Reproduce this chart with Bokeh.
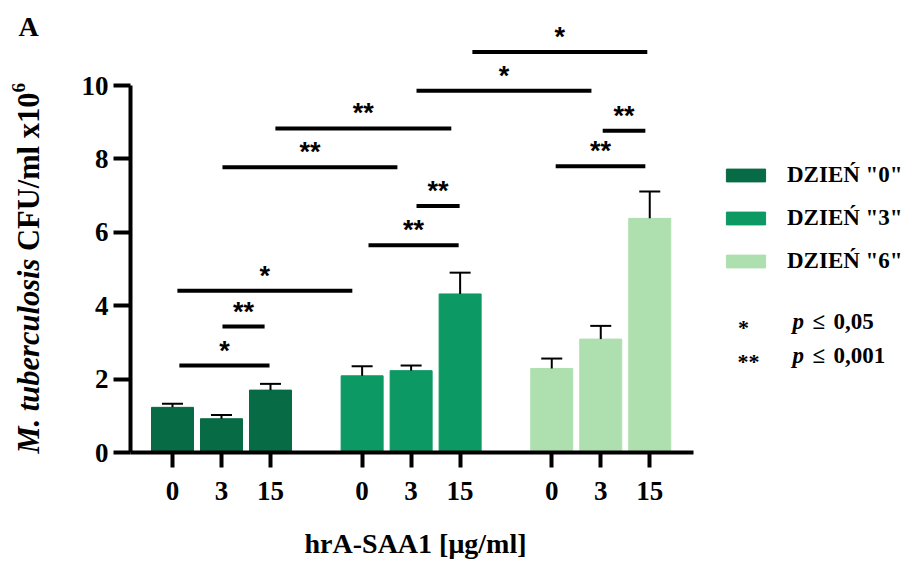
import math
from bokeh.plotting import figure
from bokeh.models import (ColumnDataSource, Range1d, FixedTicker, Whisker, TeeHead,
                          Legend, LegendItem, Label, CustomJSTickFormatter)
from bokeh.core.properties import value
from bokeh.embed import file_html
from bokeh.resources import INLINE

# ---------------- data ----------------
doses = ["0", "3", "15"]
days = ['DZIEŃ "0"', 'DZIEŃ "3"', 'DZIEŃ "6"']
day0_mean = [1.23, 0.92, 1.70]
day0_err = [0.10, 0.10, 0.17]
day3_mean = [2.09, 2.23, 4.32]
day3_err = [0.26, 0.14, 0.58]
day6_mean = [2.29, 3.09, 6.38]
day6_err = [0.27, 0.36, 0.73]
y_ticks = [0, 2, 4, 6, 8, 10]

# significance brackets (x in bar-slot units, y in CFU/ml x10^6)
sig_x0 = [0.14, 1.02, 0.10, 1.02, 2.10, 4.00, 4.98, 7.82, 8.78, 4.98, 6.12]
sig_x1 = [1.98, 1.88, 3.67, 4.59, 5.69, 5.84, 5.86, 9.65, 9.65, 8.55, 9.69]
sig_y = [2.37, 3.43, 4.41, 7.77, 8.83, 5.65, 6.72, 7.80, 8.77, 9.86, 10.91]
sig_txt = ["*", "**", "*", "**", "**", "**", "**", "**", "**", "*", "*"]

p_marks = ["*", "**"]
p_values = ["0,05", "0,001"]

# ---------------- layout constants ----------------
colors = ["#076B45", "#0C9963", "#AEDFAF"]
GROUP_STEP = 3.87
BAR_W = 0.857
W, H = 909, 563
AXIS_PX = 130          # pixel column of the y axis
BOT_PX = 452           # pixel row of the x axis
PX_X = 49.0            # pixels per bar slot
PX_Y = 36.7            # pixels per y unit
X_AXIS_START = -0.857
X_AXIS_END = 10.63
X0 = X_AXIS_START - AXIS_PX / PX_X
X1 = X_AXIS_START + (W - AXIS_PX) / PX_X
Y0 = -(H - BOT_PX) / PX_Y
Y1 = BOT_PX / PX_Y


def dx(px):
    return X_AXIS_START + (px - AXIS_PX) / PX_X


def dy(py):
    return (BOT_PX - py) / PX_Y


SERIF = "Liberation Serif"

p = figure(width=W, height=H, x_range=Range1d(X0, X1), y_range=Range1d(Y0, Y1),
           min_border=0, toolbar_location=None, output_backend="svg", title=None)
p.outline_line_color = None
p.xgrid.visible = False
p.ygrid.visible = False
p.background_fill_color = "white"
p.border_fill_color = "white"

means = [day0_mean, day3_mean, day6_mean]
errs = [day0_err, day3_err, day6_err]
renderers = []
all_x, all_lab = [], []
for g in range(3):
    xs = [g * GROUP_STEP + i for i in range(3)]
    all_x += xs
    all_lab += doses
    src = ColumnDataSource(dict(x=xs, top=means[g],
                                upper=[m + e for m, e in zip(means[g], errs[g])]))
    r = p.vbar(x="x", top="top", width=BAR_W, source=src, fill_color=colors[g],
               line_color=colors[g], line_width=1)
    renderers.append(r)
    wh = Whisker(base="x", lower="top", upper="upper", source=src,
                 upper_head=TeeHead(size=21, line_width=2, line_color="black"),
                 lower_head=None, line_width=2, line_color="black", level="glyph")
    p.add_layout(wh)

# significance brackets
sig_src = ColumnDataSource(dict(x0=sig_x0, x1=sig_x1, y=sig_y, t=sig_txt,
                                xm=[(a + b) / 2 for a, b in zip(sig_x0, sig_x1)]))
p.segment(x0="x0", x1="x1", y0="y", y1="y", source=sig_src, line_width=4,
          line_color="black", line_cap="butt")
p.text(x="xm", y="y", text="t", source=sig_src, text_align="center",
       text_baseline="alphabetic", y_offset=-15, text_font=value("Liberation Sans"),
       text_font_style="bold", text_font_size="27px", text_color="black")

# axes (fixed inside the frame so the outer texts are not clipped)
yax = p.yaxis[0]
yax.fixed_location = X_AXIS_START
yax.ticker = FixedTicker(ticks=y_ticks)
yax.bounds = (0, 10)
yax.axis_line_width = 4
yax.major_tick_line_width = 4
yax.major_tick_out = 17
yax.major_tick_in = 0
yax.minor_tick_line_color = None
yax.major_label_standoff = 5
yax.major_label_text_font = SERIF
yax.major_label_text_font_style = "bold"
yax.major_label_text_font_size = "27px"
yax.major_label_text_color = "black"

xax = p.xaxis[0]
xax.fixed_location = 0
xax.ticker = FixedTicker(ticks=all_x)
xax.formatter = CustomJSTickFormatter(args=dict(pos=all_x, labs=all_lab), code="""
for (let i = 0; i < pos.length; i++) { if (Math.abs(pos[i] - tick) < 1e-6) return labs[i]; }
return "";
""")
xax.bounds = (X_AXIS_START, X_AXIS_END)
xax.axis_line_width = 4
xax.major_tick_line_width = 4
xax.major_tick_out = 15
xax.major_tick_in = 0
xax.minor_tick_line_color = None
xax.major_label_standoff = 14
xax.major_label_text_font = SERIF
xax.major_label_text_font_style = "bold"
xax.major_label_text_font_size = "27px"
xax.major_label_text_color = "black"

# legend
legend = Legend(items=[LegendItem(label=value(days[g]), renderers=[renderers[g]]) for g in range(3)],
                location=(721, H - 274), glyph_width=49, glyph_height=16, label_height=22,
                spacing=17, label_standoff=17, padding=0, margin=0,
                border_line_color=None, background_fill_alpha=0,
                label_text_font=SERIF, label_text_font_style="bold",
                label_text_font_size="23px", label_text_color="black")
p.add_layout(legend)


def lab(text, px, py, size, style="bold", align="left", angle=0.0, font=SERIF):
    p.add_layout(Label(x=dx(px), y=dy(py), text=text, text_font=font,
                       text_font_style=style, text_font_size=size, text_align=align,
                       text_baseline="alphabetic", angle=angle, text_color="black"))


# panel letter
lab("A", 18, 26, "28px")
# x-axis title
lab("hrA-SAA1 [μg/ml]", 415, 543, "28px", align="center")
# y-axis title (rotated, mixed styles)
Y_FS = 30.5
lab("M. tuberculosis", 28, 453, f"{Y_FS}px", style="bold italic", angle=math.pi / 2)
lab("CFU/ml x10", 28, 453 - 6.64 * Y_FS, f"{Y_FS}px", angle=math.pi / 2)
lab("6", 18, 453 - (6.64 + 5.194) * Y_FS, "19px", angle=math.pi / 2)

# p-value key
lab(p_marks[0], 743, 327, "22px", align="center")
lab(p_marks[1], 748, 361, "22px", align="center")
for py, val in zip([321, 355], p_values):
    lab("p", 792, py, "23px", style="bold italic")
    lab("≤", 812, py, "23px")
    lab(val, 833, py, "23px")

open("out.html", "w").write(file_html(p, INLINE))
